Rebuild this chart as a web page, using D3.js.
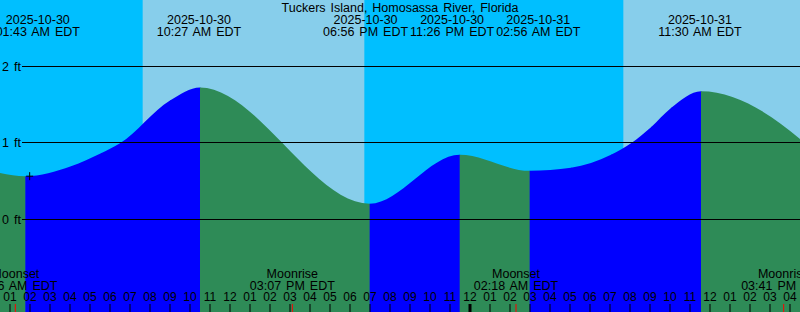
<!DOCTYPE html>
<html>
<head>
<meta charset="utf-8">
<script src="https://cdn.jsdelivr.net/npm/d3@7"></script>
<style>
    body { margin: 0; padding: 0; overflow: hidden; }
    svg { display: block; }
    text { font-family: "Liberation Sans", Arial, sans-serif; font-size: 12.5px; word-spacing: 1.5px; fill: black; }
    text.hour { font-size: 12px; }
</style>
</head>
<body>
<script>
// tide readings: extremes (labelled) plus a few points
var tideTimes = ["2025-10-29 22:44", "2025-10-30 01:43", "2025-10-30 04:00", "2025-10-30 05:30",
                 "2025-10-30 06:27", "2025-10-30 08:57", "2025-10-30 10:27", "2025-10-30 18:56",
                 "2025-10-30 23:26", "2025-10-31 02:56", "2025-10-31 05:00", "2025-10-31 07:00",
                 "2025-10-31 08:00", "2025-10-31 09:00", "2025-10-31 10:00", "2025-10-31 11:30",
                 "2025-10-31 19:40"];
var tideHeights = [0.74, 0.56, 0.69, 0.86, 0.99, 1.55, 1.72, 0.20,
                   0.84, 0.63, 0.67, 0.84, 0.99, 1.20, 1.45, 1.67,
                   0.25];
var tideExtreme = [true, true, false, false, false, false, true, true,
                   true, true, false, false, false, false, false, true,
                   true];

// daylight
var sunrises = ["2025-10-30 07:38", "2025-10-31 07:40"];
var sunsets = ["2025-10-30 18:43", "2025-10-31 18:42"];

// moon
var moonTimes = ["2025-10-30 01:16", "2025-10-30 15:07", "2025-10-31 02:18", "2025-10-31 15:41"];
var moonEvents = ["Moonset", "Moonrise", "Moonset", "Moonrise"];

var heightTicks = [0, 1, 2];
var nowTime = "2025-10-30 01:59";
var nowHeight = 0.56;
var title = "Tuckers Island, Homosassa River, Florida";
var chartStart = "2025-10-30 00:30";
var chartEnd = "2025-10-31 16:30";

function init(){
    var w = 800;
    var h = 312;
    var parse = d3.timeParse("%Y-%m-%d %H:%M");
    var fmtDate = d3.timeFormat("%Y-%m-%d");
    var fmtTime = d3.timeFormat("%I:%M %p EDT");

    var xScale = d3.scaleTime()
                    .domain([parse(chartStart), parse(chartEnd)])
                    .range([0, w]);

    var yScale = d3.scaleLinear()
                    .domain([0, 2])
                    .range([219, 66]);

    var svg = d3.select("body")
                .append("svg")
                .attr("width", w)
                .attr("height", h);

    // night sky everywhere, day bands on top
    svg.append("rect")
        .attr("x", 0).attr("y", 0)
        .attr("width", w).attr("height", h)
        .attr("fill", "#00BFFF");

    svg.selectAll("rect.day")
        .data(sunrises)
        .enter()
        .append("rect")
        .attr("class", "day")
        .attr("x", function(d) { return xScale(parse(d)); })
        .attr("y", 0)
        .attr("width", function(d, i) {
            return xScale(parse(sunsets[i])) - xScale(parse(d));
        })
        .attr("height", h)
        .attr("fill", "#87CEEB");

    // tide area
    var tides = tideTimes.map(function(d, i) {
        return { t: parse(d), v: tideHeights[i], ext: tideExtreme[i] };
    });

    var area = d3.area()
                .x(function(d) { return xScale(d.t); })
                .y0(h)
                .y1(function(d) { return yScale(d.v); })
                .curve(d3.curveMonotoneX);

    svg.append("clipPath")
        .attr("id", "tideClip")
        .append("path")
        .attr("d", area(tides));

    var segs = tides.slice(0, -1).map(function(d, i) {
        return { a: d, b: tides[i + 1] };
    });

    // fill sits one pixel to the right, like the original
    svg.append("g")
        .attr("transform", "translate(1,0)")
        .append("g")
        .attr("clip-path", "url(#tideClip)")
        .selectAll("rect")
        .data(segs)
        .enter()
        .append("rect")
        .attr("x", function(d) { return xScale(d.a.t); })
        .attr("y", 0)
        .attr("width", function(d) { return xScale(d.b.t) - xScale(d.a.t) + 0.5; })
        .attr("height", h)
        .attr("fill", function(d) { return d.b.v > d.a.v ? "#0000FF" : "#2E8B57"; });

    // height grid
    svg.selectAll("line.grid")
        .data(heightTicks)
        .enter()
        .append("line")
        .attr("class", "grid")
        .attr("x1", 22).attr("x2", w)
        .attr("y1", function(d) { return yScale(d); })
        .attr("y2", function(d) { return yScale(d); })
        .attr("stroke", "black")
        .attr("stroke-width", 1)
        .attr("shape-rendering", "crispEdges");

    svg.selectAll("text.ylab")
        .data(heightTicks)
        .enter()
        .append("text")
        .attr("class", "ylab")
        .attr("x", 2)
        .attr("y", function(d) { return yScale(d) + 4.5; })
        .text(function(d) { return d + " ft"; });

    svg.append("text")
        .attr("x", w / 2)
        .attr("y", 11.5)
        .attr("text-anchor", "middle")
        .text(title);

    // tide labels, pushed apart where they would collide
    var ext = tides.filter(function(d) { return d.ext; });

    var labels = svg.selectAll("g.tlabel")
        .data(ext)
        .enter()
        .append("g")
        .attr("class", "tlabel");

    labels.append("text")
        .attr("y", 23.5)
        .attr("text-anchor", "middle")
        .text(function(d) { return fmtDate(d.t); });

    labels.append("text")
        .attr("y", 35.5)
        .attr("text-anchor", "middle")
        .text(function(d) { return fmtTime(d.t); });

    labels.each(function(d) {
        var widths = [];
        d3.select(this).selectAll("text").each(function() {
            widths.push(this.getComputedTextLength());
        });
        d.w = d3.max(widths);
        d.cx = xScale(d.t);
    });

    var gap = 2;
    for (var k = 0; k < 100; k++) {
        for (var i = 0; i < ext.length - 1; i++) {
            var need = ext[i].w / 2 + ext[i + 1].w / 2 + gap;
            var dist = ext[i + 1].cx - ext[i].cx;
            if (dist < need) {
                ext[i].cx -= (need - dist) / 2;
                ext[i + 1].cx += (need - dist) / 2;
            }
        }
    }

    labels.selectAll("text")
        .attr("x", function() { return d3.select(this.parentNode).datum().cx; });

    // moon labels
    svg.selectAll("text.mname")
        .data(moonTimes)
        .enter()
        .append("text")
        .attr("class", "mname")
        .attr("x", function(d) { return xScale(parse(d)); })
        .attr("y", 277.5)
        .attr("text-anchor", "middle")
        .text(function(d, i) { return moonEvents[i]; });

    svg.selectAll("text.mtime")
        .data(moonTimes)
        .enter()
        .append("text")
        .attr("class", "mtime")
        .attr("x", function(d) { return xScale(parse(d)); })
        .attr("y", 289.5)
        .attr("text-anchor", "middle")
        .text(function(d) { return fmtTime(parse(d)); });

    // hour axis
    var hours = d3.timeHour.range(xScale.domain()[0], xScale.domain()[1]);

    svg.selectAll("text.hour")
        .data(hours)
        .enter()
        .append("text")
        .attr("class", "hour")
        .attr("x", function(d) { return xScale(d); })
        .attr("y", 301)
        .attr("text-anchor", "middle")
        .text(d3.timeFormat("%I"));

    svg.selectAll("line.hour")
        .data(hours)
        .enter()
        .append("line")
        .attr("class", "hour")
        .attr("x1", function(d) { return xScale(d); })
        .attr("x2", function(d) { return xScale(d); })
        .attr("y1", 304).attr("y2", h)
        .attr("stroke", "black")
        .attr("stroke-width", function(d) { return d.getHours() === 0 ? 3 : 1; });

    svg.selectAll("line.moon")
        .data(moonTimes)
        .enter()
        .append("line")
        .attr("class", "moon")
        .attr("x1", function(d) { return xScale(parse(d)); })
        .attr("x2", function(d) { return xScale(parse(d)); })
        .attr("y1", 304).attr("y2", h)
        .attr("stroke", "red")
        .attr("stroke-width", 1);

    // current time marker
    var px = xScale(parse(nowTime));
    var py = yScale(nowHeight);
    svg.append("path")
        .attr("d", "M" + (px - 3.5) + "," + py + "H" + (px + 3.5) + "M" + px + "," + (py - 4) + "V" + (py + 4))
        .attr("stroke", "black")
        .attr("stroke-width", 1)
        .attr("fill", "none");
}

window.onload = init;
</script>
</body>
</html>
